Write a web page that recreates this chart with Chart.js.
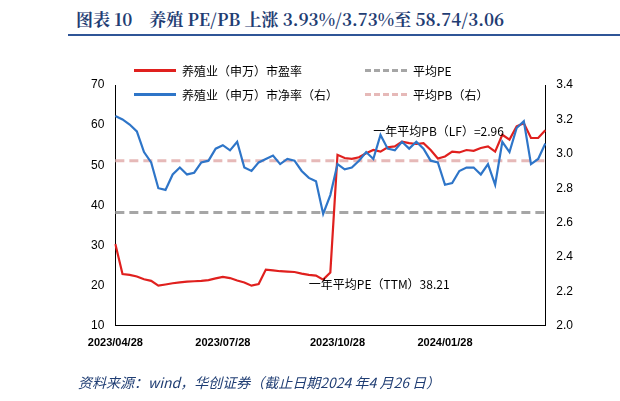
<!DOCTYPE html><html><head><meta charset="utf-8">
<script src="https://cdn.jsdelivr.net/npm/chart.js@4"></script>
<style>
body{margin:0;width:620px;height:401px;background:#fff;position:relative;overflow:hidden;font-family:"Noto Sans CJK SC",sans-serif}
#t{position:absolute;left:76px;top:6px;font-family:"Noto Serif CJK SC","Noto Sans CJK SC";font-weight:bold;font-size:17px;color:#1F3D73;white-space:nowrap}
#rule{position:absolute;left:68px;top:34px;width:552px;height:2px;background:#2F5597}
#f{position:absolute;left:78px;top:372px;font-size:14px;font-style:italic;color:#1F3D73;white-space:nowrap}
#lg{position:absolute;left:0;top:0;font-size:12px;color:#000}
.it{position:absolute;white-space:nowrap;display:flex;align-items:center}
.sw{width:42px;height:0;border-top:3px solid;margin-right:6px}
canvas{position:absolute;left:0;top:0}
</style></head><body>
<div id="t">图表 10&nbsp;&nbsp;&nbsp;&nbsp;养殖 PE/PB 上涨 3.93%/3.73%至 58.74/3.06</div>
<div id="rule"></div>
<canvas id="c" width="620" height="401"></canvas>
<div id="lg">
<div class="it" style="left:134px;top:62px"><span class="sw" style="border-color:#E0201E"></span>养殖业（申万）市盈率</div>
<div class="it" style="left:134px;top:86px"><span class="sw" style="border-color:#2E75C8"></span>养殖业（申万）市净率（右）</div>
<div class="it" style="left:365px;top:62px"><span class="sw" style="border-color:#A6A6A6;border-top-style:dashed"></span>平均PE</div>
<div class="it" style="left:365px;top:86px"><span class="sw" style="border-color:#E6B9B8;border-top-style:dashed"></span>平均PB（右）</div>
</div>
<div id="f">资料来源：wind，华创证券（截止日期2024 年4 月26 日）</div>
<script>
const xLabels={0:"2023/04/28",15:"2023/07/28",31:"2023/10/28",46:"2024/01/28"};
const pe=[30.4,22.9,22.7,22.3,21.6,21.2,20.0,20.3,20.6,20.8,21.0,21.1,21.2,21.4,21.8,22.2,21.9,21.3,20.8,20.0,20.4,24.0,23.8,23.6,23.5,23.4,23.0,22.7,22.5,21.5,23.3,52.6,51.8,51.6,52.0,53.0,53.8,53.4,54.5,54.7,55.9,55.5,55.3,55.5,53.8,51.7,52.2,53.4,53.2,53.8,53.6,54.3,54.7,53.4,57.6,56.4,59.7,60.5,56.8,56.8,58.74];
const pb=[3.22,3.20,3.17,3.13,3.01,2.95,2.80,2.79,2.88,2.92,2.88,2.89,2.95,2.96,3.03,3.05,3.02,3.07,2.92,2.90,2.95,2.97,2.99,2.94,2.97,2.96,2.90,2.86,2.84,2.65,2.76,2.94,2.91,2.92,2.96,3.01,2.97,3.11,3.03,3.02,3.07,3.03,3.07,3.03,2.96,2.95,2.82,2.83,2.90,2.92,2.92,2.88,2.94,2.82,3.07,3.01,3.15,3.19,2.94,2.97,3.06];
const avgPE=38.21, avgPB=2.96;
const labels=pe.map((_,i)=>xLabels[i]||"");
const ann={id:'ann',afterDatasetsDraw(ch){const c=ch.ctx,x=ch.scales.x,yl=ch.scales.y,yr=ch.scales.y1;
c.save();c.font='12px "Noto Sans CJK SC"';c.fillStyle='#000';c.textBaseline='middle';
c.fillText('一年平均PB（LF）=2.96',x.getPixelForValue(36),yr.getPixelForValue(3.13));
c.fillText('一年平均PE（TTM）38.21',x.getPixelForValue(27),yl.getPixelForValue(20.3));
c.restore();}};
new Chart(document.getElementById('c'),{type:'line',
data:{labels,datasets:[
{data:pe,borderColor:'#E0201E',borderWidth:2.2,pointRadius:0,yAxisID:'y',order:2},
{data:pb,borderColor:'#2E75C8',borderWidth:2.2,pointRadius:0,yAxisID:'y1',order:1},
{data:pe.map(()=>avgPE),borderColor:'#A6A6A6',borderWidth:3,borderDash:[9,5],pointRadius:0,yAxisID:'y',order:3},
{data:pe.map(()=>avgPB),borderColor:'#E6B9B8',borderWidth:3,borderDash:[9,5],pointRadius:0,yAxisID:'y1',order:4}]},
options:{animation:false,responsive:false,tension:0,
layout:{padding:{top:85,left:88,right:44,bottom:48}},
plugins:{legend:{display:false},tooltip:{enabled:false}},
scales:{
x:{grid:{display:false,drawTicks:true},border:{color:'#000'},offset:false,
 ticks:{autoSkip:false,maxRotation:0,color:'#000',font:{size:11,weight:'bold'}}},
y:{min:10,max:70,position:'left',grid:{display:false},border:{color:'#000'},
 ticks:{stepSize:10,color:'#000',font:{size:12}}},
y1:{min:2.0,max:3.4,position:'right',grid:{display:false},border:{color:'#000'},
 ticks:{stepSize:0.2,color:'#000',font:{size:12},callback:v=>v.toFixed(1)}}}},
plugins:[ann]});
</script></body></html>
